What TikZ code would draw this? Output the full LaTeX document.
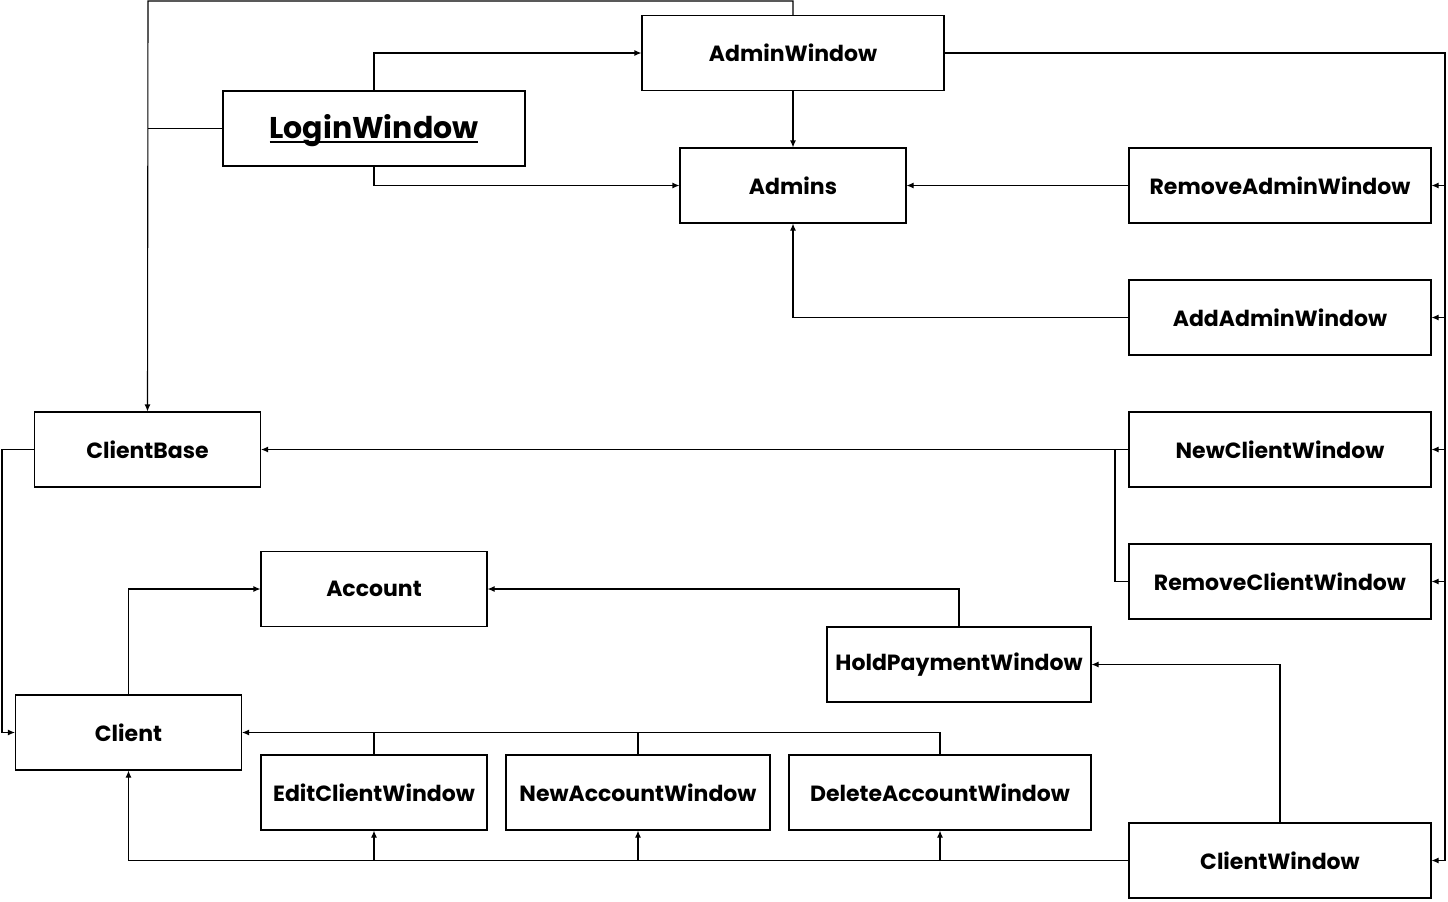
\documentclass[tikz,border=0pt]{standalone}
\usepackage{fontspec}
\setmainfont{Poppins}
\usetikzlibrary{arrows.meta}
\newcommand{\ulword}[1]{\setbox0\hbox{#1}\rlap{\rule[-2.6pt]{\wd0}{1pt}}\box0}

\begin{document}
\begin{tikzpicture}[x=0.5pt, y=-0.5pt, line width=0.55pt,
    arr/.style={-{Latex[length=3.5pt,width=3pt]}},
    box/.style={draw, fill=white, minimum height=37.5pt, inner sep=0pt, font=\bfseries\fontsize{11}{13}\selectfont},
    wide/.style={box, minimum width=151pt},
    mid/.style={box, minimum width=132pt},
    narrow/.style={box, minimum width=113pt}]
	\useasboundingbox (0,0) rectangle (1448,901);

	% 上部：管理员窗口
	\node[wide] (admwin) at (793,53) {AdminWindow};
	\node[wide, font=\bfseries\fontsize{15}{17}\selectfont, text height=11pt, text depth=1.5pt] (login) at (374,128.5) {\ulword{LoginWindow}};
	\node[narrow] (admins) at (793,185.5) {Admins};
	\node[wide] (rmadm) at (1280,185.5) {RemoveAdminWindow};
	\node[wide] (addadm) at (1280,317.5) {AddAdminWindow};

	% 中部：客户窗口
	\node[narrow] (cbase) at (147.5,449.5) {ClientBase};
	\node[wide] (newcli) at (1280,449.5) {NewClientWindow};
	\node[wide] (rmcli) at (1280,581.5) {RemoveClientWindow};
	\node[narrow] (account) at (374,589) {Account};
	\node[mid] (hold) at (959,664.5) {HoldPaymentWindow};

	% 下部：客户及账户窗口
	\node[narrow] (client) at (128.5,732.5) {Client};
	\node[narrow] (editcli) at (374,792.5) {EditClientWindow};
	\node[mid] (newacc) at (638,792.5) {NewAccountWindow};
	\node[wide] (delacc) at (940,792.5) {DeleteAccountWindow};
	\node[wide] (cliwin) at (1280,860.5) {ClientWindow};

	\coordinate (topL) at (148,1);
	\coordinate (busR) at (1445,53);
	\coordinate (leftL) at (2,449.5);
	\coordinate (jnc) at (1115,449.5);

	% 连线
	\draw[arr] (admwin.north) |- (topL) -- (cbase.north);
	\draw (login.west) -- (login.west -| cbase.north);
	\draw[arr] (login.north) |- (admwin.west);
	\draw[arr] (login.south) |- (admins.west);
	\draw[arr] (admwin.south) -- (admins.north);
	\draw[arr] (rmadm.west) -- (admins.east);
	\draw[arr] (addadm.west) -| (admins.south);

	% 右侧总线
	\draw (admwin.east) -- (busR) -- (busR |- cliwin.east);
	\foreach \n in {rmadm, addadm, newcli, rmcli, cliwin}
		\draw[arr] (busR |- \n.east) -- (\n.east);

	\draw[arr] (newcli.west) -- (cbase.east);
	\draw (rmcli.west) -| (jnc);
	\draw[arr] (cbase.west) -- (leftL) |- (client.west);
	\draw[arr] (client.north) |- (account.west);
	\draw[arr] (hold.north) |- (account.east);
	\draw[arr] (cliwin.north) |- (hold.east);

	% 下方窗口到 Client
	\draw[arr] (delacc.north) |- (client.east);
	\draw (editcli.north) -- (editcli.north |- client.east);
	\draw (newacc.north) -- (newacc.north |- client.east);
	\draw[arr] (cliwin.west) -| (client.south);
	\foreach \n in {editcli, newacc, delacc}
		\draw[arr] (\n.south |- cliwin.west) -- (\n.south);
\end{tikzpicture}
\end{document}
